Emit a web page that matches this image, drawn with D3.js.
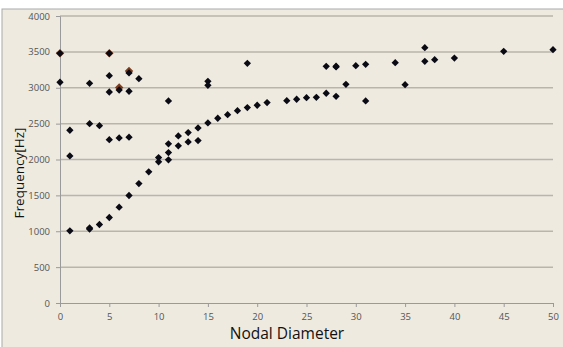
<!DOCTYPE html>
<meta charset="utf-8">
<style>
body { margin: 0; background: #fff; overflow: hidden; }
text { font-family: "Open Sans", "Liberation Sans", sans-serif; }
</style>
<svg width="563" height="347"></svg>
<script src="https://d3js.org/d3.v7.min.js"></script>
<script>
// nodal diameter / frequency pairs
const nodalDiameter = [0, 0, 1, 1, 1, 3, 3, 3, 3, 4, 4, 5, 5, 5, 5, 5, 6, 6, 6, 7, 7, 7, 7, 8, 8, 9,
  10, 10, 11, 11, 11, 11, 12, 12, 13, 13, 14, 14, 15, 15, 15, 16, 17, 18, 19, 19, 20, 21,
  23, 24, 25, 26, 27, 27, 28, 28, 28, 29, 30, 31, 31, 34, 35, 37, 37, 38, 40, 45, 50];
const frequency = [3480, 3077, 2408, 2050, 1006, 3062, 2500, 1030, 1045, 2472, 1094, 3480, 3168, 2941, 2277, 1192,
  1336, 2969, 2301, 3206, 2951, 2311, 1498, 3127, 1665, 1828,
  2027, 1967, 2816, 2218, 2097, 1995, 2329, 2190, 2375, 2245, 2440, 2264, 3090, 3034, 2510,
  2575, 2625, 2681, 3341, 2723, 2756, 2793,
  2820, 2840, 2862, 2867, 3299, 2923, 3290, 3300, 2881, 3048, 3307, 3327, 2816, 3349, 3043,
  3558, 3368, 3391, 3414, 3508, 3530];
// second (brownish) set sitting underneath a few of the points
const altDiameter = [0, 5, 6, 7];
const altFrequency = [3480, 3480, 3005, 3235];

const xTicks = [0, 5, 10, 15, 20, 25, 30, 35, 40, 45, 50];
const yTicks = [0, 500, 1000, 1500, 2000, 2500, 3000, 3500, 4000];

const width = 563, height = 347;
const svg = d3.select("svg");

svg.append("rect").attr("x", 2).attr("y", 9).attr("width", width).attr("height", height)
  .attr("fill", "#eeeae0").attr("stroke", "#a9a9a9").attr("stroke-width", 1);

const x = d3.scaleLinear().domain([0, 50]).range([60, 553]);
const y = d3.scaleLinear().domain([0, 4000]).range([303, 16]);

// gridlines
svg.append("g").selectAll("line").data(yTicks.slice(1)).join("line")
  .attr("x1", x(0)).attr("x2", x(50))
  .attr("y1", d => y(d)).attr("y2", d => y(d))
  .attr("stroke", "#b9b5ab").attr("stroke-width", 1.5);

const xAxis = svg.append("g").attr("transform", `translate(0,${y(0)})`)
  .call(d3.axisBottom(x).tickValues(xTicks).tickFormat(d3.format("d")).tickSize(4).tickPadding(6));
const yAxis = svg.append("g").attr("transform", `translate(${x(0)},0)`)
  .call(d3.axisLeft(y).tickValues(yTicks).tickFormat(d3.format("d")).tickSize(4).tickPadding(6));
[xAxis, yAxis].forEach(a => {
  a.select(".domain").attr("stroke", "#9a9a9a");
  a.selectAll(".tick line").attr("stroke", "#9a9a9a");
  a.selectAll(".tick text").attr("fill", "#555").attr("font-size", 9.5);
});

const diamond = d3.symbol().type(d3.symbolDiamond2).size(34);

svg.append("g").selectAll("path").data(altDiameter).join("path")
  .attr("transform", (d, i) => `translate(${x(d)},${y(altFrequency[i])})`)
  .attr("d", d3.symbol().type(d3.symbolDiamond2).size(46))
  .attr("fill", "#7e3e1e");

svg.append("g").selectAll("path").data(nodalDiameter).join("path")
  .attr("transform", (d, i) => `translate(${x(d)},${y(frequency[i])})`)
  .attr("d", diamond)
  .attr("fill", "#0a0a14");

svg.append("text").attr("x", 287).attr("y", 339).attr("text-anchor", "middle")
  .attr("font-size", 15.5).attr("fill", "#111").text("Nodal Diameter");
svg.append("text").attr("transform", "translate(24,173) rotate(-90)")
  .attr("text-anchor", "middle").attr("font-size", 13.5).attr("fill", "#111")
  .text("Frequency[Hz]");
</script>
